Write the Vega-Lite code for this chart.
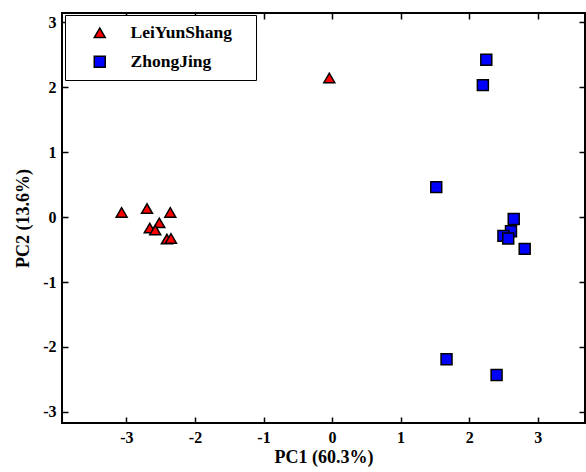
{
  "$schema": "https://vega.github.io/schema/vega-lite/v6.json",
  "autosize": "none",
  "width": 523,
  "height": 410,
  "padding": {"left": 62, "top": 13, "right": 1, "bottom": 49},
  "background": "white",
  "config": {
    "view": {"stroke": "black", "strokeWidth": 2},
    "font": "Liberation Serif",
    "axis": {
      "labelFont": "Liberation Serif", "labelFontWeight": "bold", "labelFontSize": 16, "labelColor": "black",
      "titleFont": "Liberation Serif", "titleFontWeight": "bold", "titleFontSize": 18, "titleColor": "black",
      "domain": false, "grid": false, "tickColor": "black", "tickWidth": 1.5, "tickSize": -6
    },
    "legend": {
      "labelFont": "Liberation Serif", "labelFontWeight": "bold", "labelFontSize": 17.5, "labelColor": "black"
    }
  },
  "data": {
    "values": [
      {"x": -0.04, "y": 2.14, "g": "LeiYunShang"},
      {"x": -3.07, "y": 0.07, "g": "LeiYunShang"},
      {"x": -2.70, "y": 0.13, "g": "LeiYunShang"},
      {"x": -2.36, "y": 0.07, "g": "LeiYunShang"},
      {"x": -2.52, "y": -0.09, "g": "LeiYunShang"},
      {"x": -2.66, "y": -0.17, "g": "LeiYunShang"},
      {"x": -2.58, "y": -0.20, "g": "LeiYunShang"},
      {"x": -2.41, "y": -0.34, "g": "LeiYunShang"},
      {"x": -2.35, "y": -0.33, "g": "LeiYunShang"},
      {"x": 2.25, "y": 2.42, "g": "ZhongJing"},
      {"x": 2.20, "y": 2.03, "g": "ZhongJing"},
      {"x": 1.52, "y": 0.46, "g": "ZhongJing"},
      {"x": 2.65, "y": -0.03, "g": "ZhongJing"},
      {"x": 2.61, "y": -0.22, "g": "ZhongJing"},
      {"x": 2.50, "y": -0.29, "g": "ZhongJing"},
      {"x": 2.57, "y": -0.33, "g": "ZhongJing"},
      {"x": 2.81, "y": -0.49, "g": "ZhongJing"},
      {"x": 1.67, "y": -2.19, "g": "ZhongJing"},
      {"x": 2.40, "y": -2.43, "g": "ZhongJing"}
    ]
  },
  "layer": [
    {
      "mark": {"type": "point", "filled": true, "stroke": "black", "strokeWidth": 1.5, "opacity": 1, "size": 120},
      "encoding": {
        "x": {"field": "x", "type": "quantitative", "scale": {"domain": [-3.94, 3.69], "nice": false, "zero": false},
              "axis": {"values": [-3, -2, -1, 0, 1, 2, 3], "labelExpr": "toString(datum.value)", "title": "PC1 (60.3%)", "labelPadding": 12, "titlePadding": 3}},
        "y": {"field": "y", "type": "quantitative", "scale": {"domain": [-3.17, 3.14], "nice": false, "zero": false},
              "axis": {"values": [-3, -2, -1, 0, 1, 2, 3], "labelExpr": "toString(datum.value)", "title": "PC2 (13.6%)", "labelPadding": 12, "titlePadding": 10}},
        "fill": {"field": "g", "type": "nominal", "scale": {"domain": ["LeiYunShang", "ZhongJing"], "range": ["#ff0000", "#0000ff"]},
                 "legend": {"title": "\u00a0", "titleOrient": "right", "titleFontSize": 8, "titlePadding": 15, "orient": "none", "legendX": 3, "legendY": 2, "strokeColor": "black", "fillColor": "white",
                            "padding": 9, "symbolSize": 120, "symbolStrokeWidth": 1.5, "symbolOffset": 17, "labelOffset": 22, "rowPadding": 10,
                            "symbolStrokeColor": "black"}},
        "shape": {"field": "g", "type": "nominal", "scale": {"domain": ["LeiYunShang", "ZhongJing"], "range": ["triangle-up", "square"]}}
      }
    },
    {
      "mark": {"type": "point", "opacity": 0},
      "encoding": {
        "x": {"field": "x", "type": "quantitative", "scale": {"domain": [-3.94, 3.69], "nice": false, "zero": false},
              "axis": {"orient": "top", "values": [-3, -2, -1, 0, 1, 2, 3], "labels": false, "title": null}},
        "y": {"field": "y", "type": "quantitative", "scale": {"domain": [-3.17, 3.14], "nice": false, "zero": false},
              "axis": {"orient": "right", "values": [-3, -2, -1, 0, 1, 2, 3], "labels": false, "title": null}}
      }
    }
  ],
  "resolve": {"axis": {"x": "independent", "y": "independent"}}
}
